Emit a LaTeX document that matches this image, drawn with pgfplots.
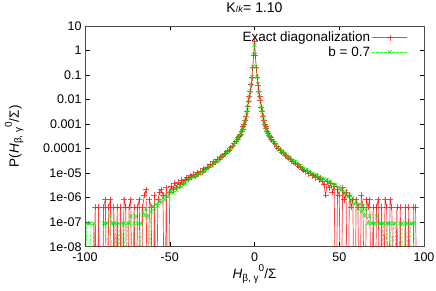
\documentclass[border=0pt]{standalone}
\usepackage{fontspec}
\setmainfont{Liberation Sans}
\usepackage{pgfplots}
\pgfplotsset{compat=1.18}
\usepackage{pgfplotstable}

% Exact diagonalization (zero bins written as 1e-12, drawn down past the axis floor)
\pgfplotstableread{
x y
-96 1e-12
-95 1e-12
-94 4.2e-7
-93 1e-12
-92 4.2e-7
-91 1e-12
-90 1e-12
-89 4.2e-7
-88 8.4e-7
-87 1e-12
-86 4.2e-7
-85 8.4e-7
-84 1e-12
-83 4.2e-7
-82 1e-12
-81 4.2e-7
-80 1e-12
-79 4.2e-7
-78 1e-12
-77 8.4e-7
-76 4.2e-7
-75 1e-12
-74 4.2e-7
-73 8.4e-7
-72 1e-12
-71 4.2e-7
-70 1e-12
-69 4.2e-7
-68 8.4e-7
-67 1e-12
-66 4.2e-7
-65 1.26e-6
-64 2.1e-6
-63 1e-12
-62 8.4e-7
-61 4.2e-7
-60 1e-12
-59 1.26e-6
-58 1e-12
-57 8.4e-7
-56 1.68e-6
-55 2.1e-6
-54 1.26e-6
-53 1e-12
-52 2.52e-6
-51 1e-12
-50 1.68e-6
-49 2.94e-6
-48 2.1e-6
-47 3.78e-6
-46 2.52e-6
-45 4.2e-6
-44 3.36e-6
-43 5.04e-6
-42 3.78e-6
-41 5.46e-6
-40 6.5e-6
-39 5.6e-6
-38 7.8e-6
-37 6.9e-6
-36 8.8e-6
-35 7.4e-6
-34 1.05e-5
-33 9.1e-6
-32 1.2e-5
-31 1.08e-5
-30 1.5e-5
-29 1.38e-5
-28 1.8e-5
-27 1.7e-5
-26 2.25e-5
-25 2.3e-5
-24 2.9e-5
-23 2.8e-5
-22 3.6e-5
-21 3.8e-5
-20 4.6e-5
-19 4.9e-5
-18 5.9e-5
-17 6.5e-5
-16 7.8e-5
-15 8.7e-5
-14 1.08e-4
-13 1.22e-4
-12 1.62e-4
-11 1.95e-4
-10 2.5e-4
-9.5 2.9e-4
-9 3.1e-4
-8.5 3.6e-4
-8 3.9e-4
-7.5 5.1e-4
-7 6.2e-4
-6.5 8.0e-4
-6 9.8e-4
-5.5 1.4e-3
-5 2.0e-3
-4.5 3.2e-3
-4 5.1e-3
-3.5 8.8e-3
-3 1.4e-2
-2.5 2.2e-2
-2 4.0e-2
-1.5 7.9e-2
-1 0.2
-0.5 0.64
0 2.4
0.5 0.62
1 0.2
1.5 0.08
2 0.039
2.5 0.022
3 1.4e-2
3.5 9.0e-3
4 4.9e-3
4.5 3.2e-3
5 2.0e-3
5.5 1.4e-3
6 1.0e-3
6.5 7.8e-4
7 6.4e-4
7.5 4.9e-4
8 4.1e-4
8.5 3.4e-4
9 3.2e-4
9.5 2.8e-4
10 2.4e-4
11 1.9e-4
12 1.6e-4
13 1.2e-4
14 1.02e-4
15 8.6e-5
16 7.2e-5
17 6.7e-5
18 5.4e-5
19 4.9e-5
20 4.1e-5
21 3.8e-5
22 3.1e-5
23 2.9e-5
24 2.5e-5
25 2.2e-5
26 1.9e-5
27 1.8e-5
28 1.45e-5
29 1.3e-5
30 1.15e-5
31 1.2e-5
32 9.5e-6
33 1.0e-5
34 7.8e-6
35 8.6e-6
36 6.5e-6
37 7.4e-6
38 5.4e-6
39 6.1e-6
40 4.6e-6
41 3.36e-6
42 1.26e-6
43 4.62e-6
44 2.52e-6
45 3.78e-6
46 1.68e-6
47 2.94e-6
48 1e-12
49 2.1e-6
50 1.26e-6
51 1e-12
52 2.52e-6
53 8.4e-7
54 1.68e-6
55 1e-12
56 1.26e-6
57 4.2e-7
58 8.4e-7
59 1e-12
60 8.4e-7
61 4.2e-7
62 1e-12
63 1.26e-6
64 4.2e-7
65 1e-12
66 8.4e-7
67 4.2e-7
68 8.4e-7
69 1e-12
70 4.2e-7
71 1e-12
72 4.2e-7
73 8.4e-7
74 1e-12
75 4.2e-7
76 1e-12
77 8.4e-7
78 4.2e-7
79 1e-12
80 8.4e-7
81 4.2e-7
82 1e-12
83 1e-12
84 4.2e-7
85 1e-12
86 4.2e-7
87 1e-12
88 1e-12
89 4.2e-7
90 1e-12
91 4.2e-7
92 1e-12
93 1e-12
94 4.2e-7
95 4.2e-7
96 1e-12
}\redtab

% b = 0.7
\pgfplotstableread{
x y
-100 1e-12
-99 9e-8
-98 9e-8
-97 9e-8
-96 1e-12
-95 9e-8
-94 1e-12
-93 1e-12
-92 1e-12
-91 1e-12
-90 1e-12
-89 9e-8
-88 9e-8
-87 9e-8
-86 1e-12
-85 1.8e-7
-84 9e-8
-83 9e-8
-82 9e-8
-81 1e-12
-80 9e-8
-79 1e-12
-78 9e-8
-77 9e-8
-76 1e-12
-75 9e-8
-74 9e-8
-73 1.8e-7
-72 1e-12
-71 9e-8
-70 1.8e-7
-69 9e-8
-68 1e-12
-67 9e-8
-66 2.7e-7
-65 1.8e-7
-64 3.6e-7
-63 1.8e-7
-62 1e-12
-61 2.7e-7
-60 4.5e-7
-59 3.6e-7
-58 5.4e-7
-57 4.5e-7
-56 7.2e-7
-55 6.3e-7
-54 9.9e-7
-53 8.1e-7
-52 1.26e-6
-51 1.08e-6
-50 1.62e-6
-49 1.8e-6
-48 1.53e-6
-47 2.25e-6
-46 1.98e-6
-45 2.7e-6
-44 3.06e-6
-43 2.79e-6
-42 3.78e-6
-41 3.6e-6
-40 5.0e-6
-39 5.6e-6
-38 6.0e-6
-37 6.7e-6
-36 7.2e-6
-35 7.6e-6
-34 8.6e-6
-33 9.3e-6
-32 1.0e-5
-31 1.13e-5
-30 1.25e-5
-29 1.38e-5
-28 1.55e-5
-27 1.75e-5
-26 1.95e-5
-25 2.2e-5
-24 2.5e-5
-23 2.8e-5
-22 3.2e-5
-21 3.6e-5
-20 4.2e-5
-19 4.8e-5
-18 5.5e-5
-17 6.4e-5
-16 7.4e-5
-15 8.6e-5
-14 1.0e-4
-13 1.2e-4
-12 1.5e-4
-11 1.9e-4
-10 2.4e-4
-9.5 2.8e-4
-9 3.2e-4
-8.5 3.5e-4
-8 4.0e-4
-7.5 5.0e-4
-7 6.3e-4
-6.5 7.9e-4
-6 1.0e-3
-5.5 1.4e-3
-5 2.0e-3
-4.5 3.1e-3
-4 4.9e-3
-3.5 8.5e-3
-3 1.35e-2
-2.5 2.3e-2
-2 4.2e-2
-1.5 8.5e-2
-1 0.22
-0.5 0.7
0 1.7
0.5 0.7
1 0.22
1.5 0.085
2 0.042
2.5 0.023
3 1.35e-2
3.5 8.5e-3
4 4.9e-3
4.5 3.1e-3
5 2.0e-3
5.5 1.4e-3
6 1.0e-3
6.5 7.9e-4
7 6.3e-4
7.5 5.0e-4
8 4.0e-4
8.5 3.5e-4
9 3.2e-4
9.5 2.8e-4
10 2.5e-4
11 2.05e-4
12 1.62e-4
13 1.3e-4
14 1.08e-4
15 9.1e-5
16 7.8e-5
17 6.8e-5
18 5.9e-5
19 5.2e-5
20 4.5e-5
21 4.0e-5
22 3.5e-5
23 3.1e-5
24 2.8e-5
25 2.45e-5
26 2.2e-5
27 1.95e-5
28 1.72e-5
29 1.55e-5
30 1.4e-5
31 1.28e-5
32 1.15e-5
33 1.06e-5
34 9.6e-6
35 8.9e-6
36 8.1e-6
37 7.5e-6
38 7.0e-6
39 6.4e-6
40 6.0e-6
41 5.58e-6
42 4.95e-6
43 5.22e-6
44 4.14e-6
45 4.5e-6
46 3.6e-6
47 3.24e-6
48 3.42e-6
49 2.43e-6
50 2.7e-6
51 1.98e-6
52 2.16e-6
53 1.44e-6
54 1.71e-6
55 1.08e-6
56 1.26e-6
57 7.2e-7
58 9.9e-7
59 5.4e-7
60 7.2e-7
61 3.6e-7
62 5.4e-7
63 2.7e-7
64 4.5e-7
65 1.8e-7
66 3.6e-7
67 9e-8
68 1.8e-7
69 9e-8
70 9e-8
71 9e-8
72 1.8e-7
73 9e-8
74 9e-8
75 9e-8
76 9e-8
77 1e-12
78 9e-8
79 9e-8
80 9e-8
81 1e-12
82 9e-8
83 9e-8
84 1e-12
85 1e-12
86 9e-8
87 9e-8
88 1e-12
89 9e-8
90 9e-8
91 1e-12
92 9e-8
93 9e-8
94 9e-8
95 1e-12
}\greentab

\definecolor{gpred}{rgb}{1,0,0}
\definecolor{gpgreen}{rgb}{0,0.9,0}

\begin{document}
\begin{tikzpicture}
\path[use as bounding box] (0,0) rectangle (436pt,291pt);
\begin{axis}[
  at={(85pt,44.3pt)}, anchor=south west,
  scale only axis, width=339pt, height=220.7pt,
  ymode=log, xmin=-100, xmax=100, ymin=1e-8, ymax=10,
  xtick={-100,-50,0,50,100},
  xticklabels={-100,-50,0,50,100},
  ytick={1e-8,1e-7,1e-6,1e-5,1e-4,1e-3,1e-2,1e-1,1,10},
  yticklabels={1e-08,1e-07,1e-06,1e-05,0.0001,0.001,0.01,0.1,1,10},
  xminorticks=false, yminorticks=false,
  tick align=inside, major tick length=4.5pt,
  tick style={black, line width=0.5pt},
  axis line style={black!70, line width=0.7pt},
  ticklabel style={font=\fontsize{12.5}{14}\selectfont},
  xticklabel style={yshift=-3pt},
  title={K{\fontsize{9}{10}\selectfont/\textit{k}}= 1.10},
  title style={font=\fontsize{14}{16}\selectfont, at={(0.5,1)}, anchor=base, yshift=7pt},
  xlabel={\textit{H}\raisebox{-0.35ex}{\fontsize{10}{11}\selectfont β, γ}\raisebox{1.0ex}{\fontsize{10}{11}\selectfont 0}/Σ},
  xlabel style={font=\fontsize{13.5}{15}\selectfont, at={(0.5,0)}, anchor=base, yshift=-32pt},
  ylabel={P(\textit{H}\raisebox{-0.35ex}{\fontsize{10}{11}\selectfont β, γ}\raisebox{1.0ex}{\fontsize{10}{11}\selectfont 0}/Σ)},
  ylabel style={font=\fontsize{13.5}{15}\selectfont, at={(axis description cs:-0.1947,0.5)}, anchor=base},
  legend style={at={(1,1)}, anchor=north east, xshift=-13pt, yshift=-2pt, draw=none, fill=none,
    font=\fontsize{13.5}{15}\selectfont, row sep=-1pt},
  legend cell align=right,
  legend plot pos=right,
  legend image code/.code={\draw[mark repeat=2,mark phase=2,#1] plot coordinates {(0pt,0pt)(17.5pt,0pt)(35pt,0pt)};},
  clip=true,
]
\addplot[color=gpred, line width=0.7pt, draw opacity=0.75, mark=+, mark size=3pt,
  mark options={solid, draw opacity=0.7}] table[x=x,y=y] {\redtab};
\addlegendentry{Exact diagonalization}
\addplot[color=gpgreen, line width=0.55pt, dash pattern=on 2.5pt off 1.5pt, draw opacity=0.8, mark=x, mark size=2.6pt,
  mark options={solid, draw opacity=0.85}] table[x=x,y=y] {\greentab};
\addlegendentry{b = 0.7}
\end{axis}
\end{tikzpicture}
\end{document}
